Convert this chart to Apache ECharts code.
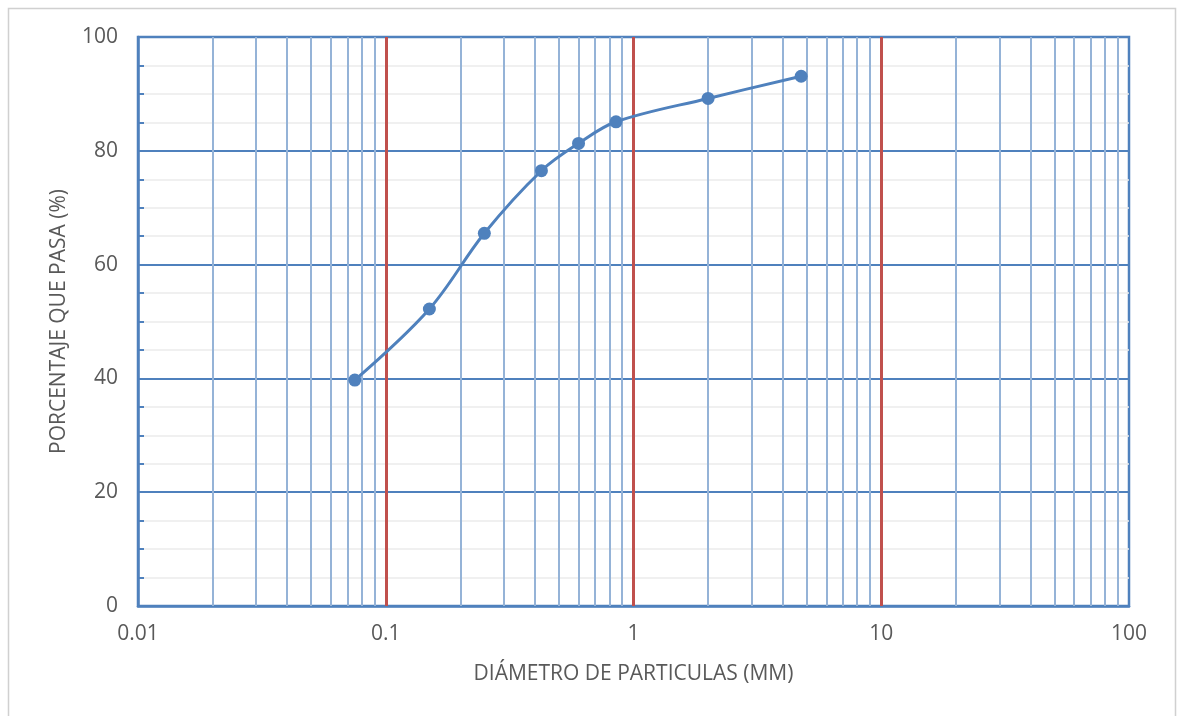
<!DOCTYPE html>
<html>
<head>
<meta charset="utf-8">
<title>Curva granulométrica</title>
<script src="https://cdn.jsdelivr.net/npm/echarts@6/dist/echarts.min.js"></script>
<style>
  html, body { margin: 0; padding: 0; background: #ffffff; }
  #chart { width: 1182px; height: 716px; }
</style>
</head>
<body>
<div id="chart"></div>
<script>
// Sieve openings (mm) and cumulative percent passing
const sieveSizes = [0.075, 0.15, 0.25, 0.425, 0.6, 0.85, 2, 4.75];
const percentPassing = [39.7, 52.2, 65.5, 76.5, 81.3, 85.1, 89.2, 93.1];

// Log-scale grid: decade boundaries and intermediate (2..9) lines
const decadeLines = [0.1, 1, 10];
const minorLines = [
  0.02, 0.03, 0.04, 0.05, 0.06, 0.07, 0.08, 0.09,
  0.2, 0.3, 0.4, 0.5, 0.6, 0.7, 0.8, 0.9,
  2, 3, 4, 5, 6, 7, 8, 9,
  20, 30, 40, 50, 60, 70, 80, 90
];

const textColor = '#595959';
const axisBlue = '#4f81bd';
const lightBlue = '#95b3d7';
const decadeRed = '#c0504d';
const font = '"Open Sans", "Liberation Sans", sans-serif';
const labelSize = 21;
const nameSize = 21;

const chart = echarts.init(document.getElementById('chart'), null, { renderer: 'canvas' });

chart.setOption({
  backgroundColor: '#ffffff',
  animation: false,
  graphic: [{
    type: 'rect',
    shape: { x: 8.5, y: 8.5, width: 1167, height: 730 },
    style: { fill: 'none', stroke: '#d0d0d0', lineWidth: 1.5 },
    z: -1, silent: true
  }],
  grid: {
    left: 138, right: 53, top: 37, bottom: 110,
    show: true,
    borderColor: axisBlue,
    borderWidth: 2.5,
    backgroundColor: 'transparent'
  },
  xAxis: {
    type: 'log',
    logBase: 10,
    min: 0.01,
    max: 100,
    name: 'DIÁMETRO DE PARTICULAS (MM)',
    nameLocation: 'middle',
    nameGap: 58,
    nameTextStyle: { color: textColor, fontSize: nameSize, fontFamily: font },
    axisLine: { show: true, lineStyle: { color: axisBlue, width: 2.5 } },
    axisTick: { show: false },
    splitLine: { show: false },
    axisLabel: {
      color: textColor, fontSize: labelSize, fontFamily: font, margin: 18,
      formatter: v => String(+v.toPrecision(6))
    }
  },
  yAxis: {
    type: 'value',
    min: 0,
    max: 100,
    interval: 20,
    name: 'PORCENTAJE QUE PASA (%)',
    nameLocation: 'middle',
    nameGap: 68,
    nameTextStyle: { color: textColor, fontSize: nameSize, fontFamily: font },
    axisLine: { show: true, lineStyle: { color: axisBlue, width: 2.5 } },
    axisTick: { show: true, inside: true, length: 6, lineStyle: { color: axisBlue, width: 2 } },
    minorTick: { show: true, splitNumber: 4, length: 6, lineStyle: { color: axisBlue, width: 2 } },
    minorSplitLine: { show: true, lineStyle: { color: '#ececec', width: 1.5 } },
    splitLine: { show: true, lineStyle: { color: axisBlue, width: 2 } },
    axisLabel: { color: textColor, fontSize: labelSize, fontFamily: font, margin: 20 }
  },
  series: [
    {
      // intermediate log grid lines
      type: 'line',
      data: [],
      silent: true,
      z: 1,
      markLine: {
        silent: true,
        symbol: 'none',
        label: { show: false },
        animation: false,
        lineStyle: { color: lightBlue, width: 2, type: 'solid' },
        data: minorLines.map(v => ({ xAxis: v }))
      }
    },
    {
      // decade lines
      type: 'line',
      data: [],
      silent: true,
      z: 2,
      markLine: {
        silent: true,
        symbol: 'none',
        label: { show: false },
        animation: false,
        lineStyle: { color: decadeRed, width: 3, type: 'solid' },
        data: decadeLines.map(v => ({ xAxis: v }))
      }
    },
    {
      name: 'Porcentaje que pasa',
      type: 'line',
      z: 5,
      smooth: 0.35,
      data: sieveSizes.map((s, i) => [s, percentPassing[i]]),
      symbol: 'circle',
      symbolSize: 13,
      lineStyle: { color: axisBlue, width: 3 },
      itemStyle: { color: axisBlue }
    }
  ]
});
</script>
</body>
</html>
